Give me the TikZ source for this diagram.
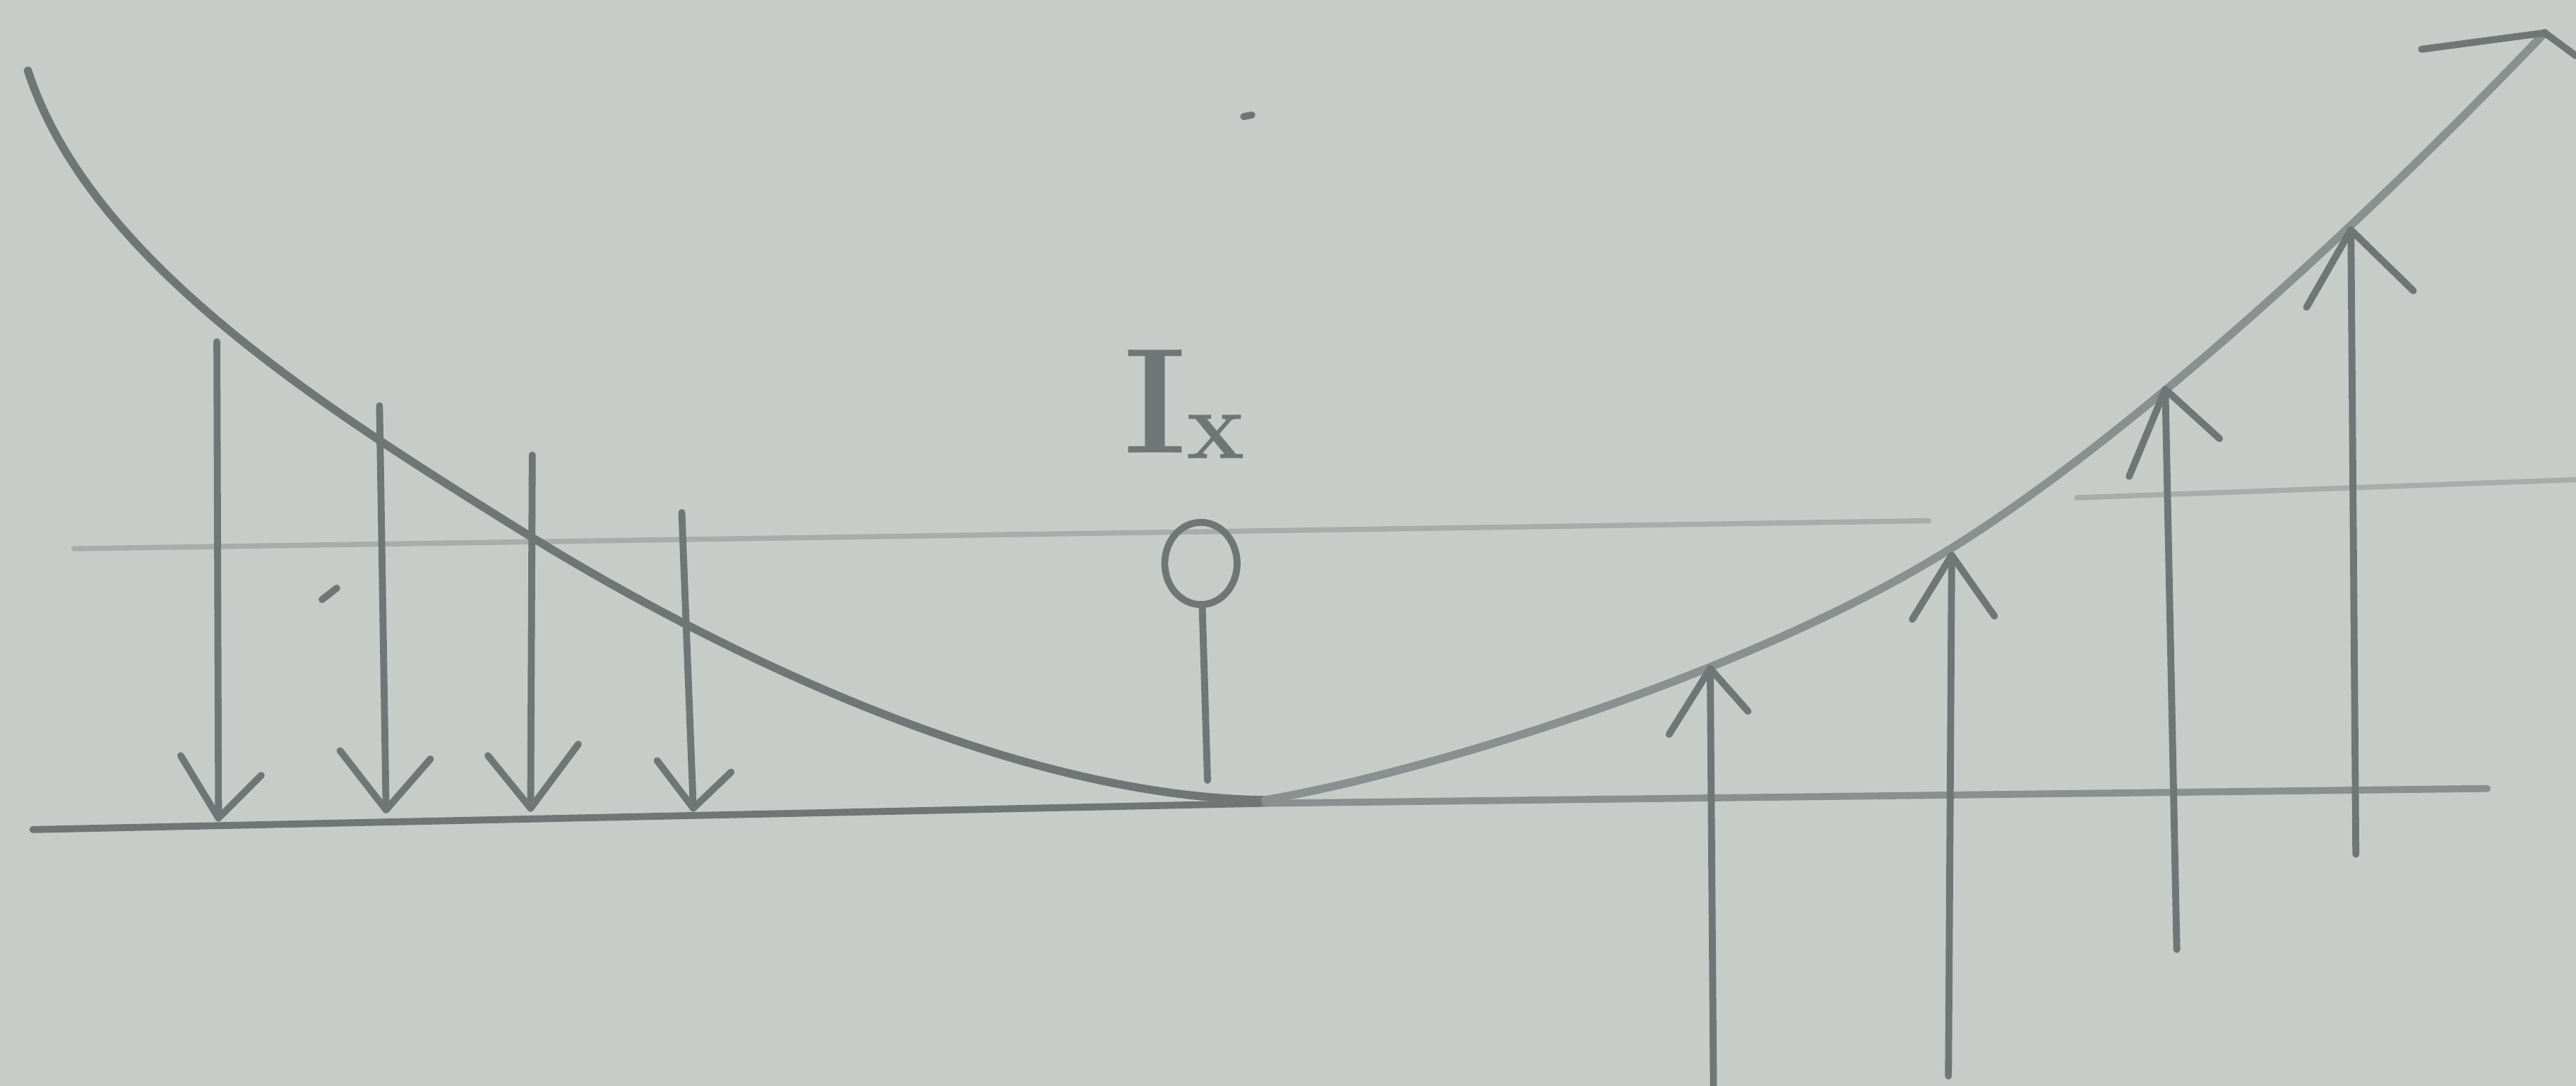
\documentclass[tikz,border=0pt]{standalone}
\usetikzlibrary{arrows.meta,shapes.geometric}
\definecolor{paper}{RGB}{199,204,201}
\definecolor{pencil}{RGB}{112,117,118}
\definecolor{softpencil}{RGB}{138,143,143}
\definecolor{faint}{RGB}{168,173,171}
\begin{document}
\begin{tikzpicture}[x=0.01cm,y=-0.01cm,
  pen/.style={draw=pencil, line width=1.2pt, line cap=round, line join=round},
  softpen/.style={draw=softpencil, line width=1.2pt, line cap=round, line join=round},
  faintline/.style={draw=faint, line width=0.9pt, line cap=round},
  lbl/.style={text=pencil, inner sep=0pt, font=\bfseries\fontsize{26}{28}\selectfont}]
\fill[paper] (0,0) rectangle (1568,661);
\useasboundingbox (0,0) rectangle (1568,661);

% faint reference lines
\draw[faintline] (45,334) -- (1174,317);
\draw[faintline] (1264,303) -- (1568,292);

% base line
\draw[pen] (20,505) -- (770,489);
\draw[softpen] (770,489) -- (1514,480);

% curve
\coordinate (c0) at (17,43);
\coordinate (c1) at (322,326);
\coordinate (cmin) at (770,487);
\coordinate (c3) at (1189,333);
\coordinate (tip) at (1549,20);
\draw[pen, line width=1.4pt] (c0) .. controls (55,160) and (200,250) .. (c1)
  .. controls (442,400) and (620,485) .. (cmin);
\draw[softpen, line width=1.4pt] (cmin) .. controls (870,470) and (1070,408) .. (c3)
  .. controls (1299,264) and (1439,135) .. (tip);
\coordinate (barbL) at (1474,30);
\coordinate (barbR) at (1568,34);
\draw[pen] (barbL) -- (tip) -- (barbR);

% down arrows
\coordinate (d1t) at (132,208); \coordinate (d1b) at (133,498);
\coordinate (d1l) at (110,460); \coordinate (d1r) at (159,472);
\coordinate (d2t) at (231,247); \coordinate (d2b) at (235,493);
\coordinate (d2l) at (207,457); \coordinate (d2r) at (262,462);
\coordinate (d3t) at (324,277); \coordinate (d3b) at (323,492);
\coordinate (d3l) at (297,460); \coordinate (d3r) at (352,453);
\coordinate (d4t) at (415,312); \coordinate (d4b) at (422,492);
\coordinate (d4l) at (400,463); \coordinate (d4r) at (445,470);
\foreach \n in {1,2,3,4}{
  \draw[pen] (d\n t) -- (d\n b);
  \draw[pen] (d\n l) -- (d\n b) -- (d\n r);
}

% up arrows
\coordinate (u1b) at (1043,661); \coordinate (u1t) at (1041,407);
\coordinate (u1l) at (1016,447); \coordinate (u1r) at (1064,433);
\coordinate (u2b) at (1186,655); \coordinate (u2t) at (1188,338);
\coordinate (u2l) at (1164,377); \coordinate (u2r) at (1214,375);
\coordinate (u3b) at (1325,578); \coordinate (u3t) at (1318,237);
\coordinate (u3l) at (1296,290); \coordinate (u3r) at (1351,267);
\coordinate (u4b) at (1434,520); \coordinate (u4t) at (1431,140);
\coordinate (u4l) at (1404,187); \coordinate (u4r) at (1469,177);
\foreach \n in {1,2,3,4}{
  \draw[pen] (u\n b) -- (u\n t);
  \draw[pen] (u\n l) -- (u\n t) -- (u\n r);
}

% centre mark
\node[lbl] (ix) at (721,246) {I\raisebox{-1pt}{\fontsize{17}{17}\selectfont x}};
\node[draw=pencil, ellipse, line width=1.2pt, minimum width=0.44cm, minimum height=0.5cm, inner sep=0pt] (ring) at (731,343) {};
\coordinate (stem) at (735,475);
\draw[pen] (ring) -- (stem);

% stray pencil marks
\coordinate (s1) at (196,365); \coordinate (s2) at (205,358);
\draw[pen] (s1) -- (s2);
\coordinate (s3) at (757,71); \coordinate (s4) at (762,70);
\draw[pen] (s3) -- (s4);
\end{tikzpicture}
\end{document}
